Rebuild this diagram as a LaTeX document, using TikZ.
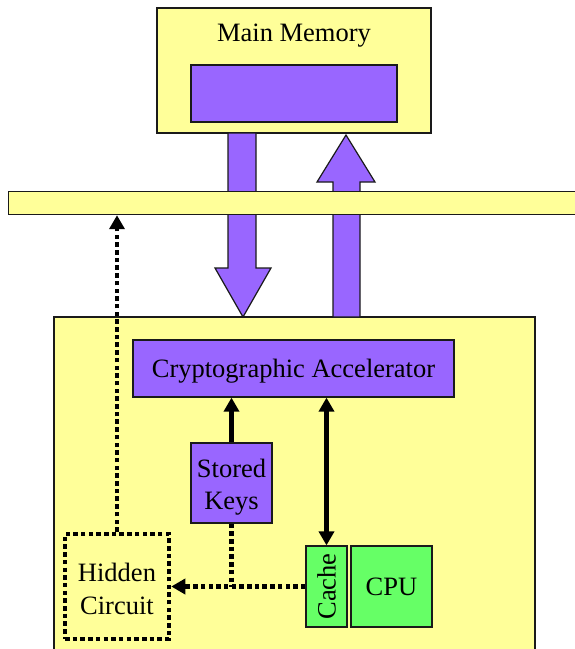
\documentclass[tikz,border=0pt]{standalone}
\usepackage{fontspec}
\setmainfont{Liberation Serif}
\usetikzlibrary{arrows.meta}
\definecolor{memyellow}{HTML}{FFFF99}
\definecolor{blockpurple}{HTML}{9966FF}
\definecolor{cpugreen}{HTML}{66FF66}
\definecolor{edge}{HTML}{1A1A1A}
\begin{document}
\begin{tikzpicture}[x=1pt,y=-1pt,
  every node/.style={font=\fontsize{26.5}{32.5}\selectfont, align=center, inner sep=0pt},
  boxy/.style={draw=edge, line width=1.2pt, rectangle},
  yellowbox/.style={boxy, fill=memyellow},
  purplebox/.style={boxy, fill=blockpurple},
  greenbox/.style={boxy, fill=cpugreen},
  hiddenbox/.style={draw=black, line width=4.5pt, dash pattern=on 4.5pt off 3.2pt, rectangle},
  solidarrow/.style={draw=black, line width=4.5pt, -{Triangle[length=14pt,width=15pt]}},
  solidboth/.style={draw=black, line width=4.5pt, {Triangle[length=14pt,width=15pt]}-{Triangle[length=14pt,width=15pt]}},
  dotline/.style={draw=black, line width=4.5pt, dash pattern=on 4.5pt off 3.2pt},
  dotarrow/.style={dotline, -{Triangle[length=14pt,width=15pt]}},
  blockarrow/.style={fill=blockpurple, draw=edge, line width=1.2pt, line join=miter}
]
\useasboundingbox (0,0) rectangle (575,649);
\clip (0,0) rectangle (575,649);

% main memory
\node[yellowbox, minimum width=274pt, minimum height=125pt] (mem) at (294,70.5) {};
\node (memlabel) at (294,36) {Main Memory};
\node[purplebox, minimum width=206pt, minimum height=57pt] (memblock) at (294,93.5) {};

% chip
\node[yellowbox, minimum width=481pt, minimum height=345pt] (chip) at (294.5,489.5) {};

% block arrows
\draw[blockarrow] (228,133) -- (256,133) -- (256,268) -- (271,268) -- (243,317) -- (215,268) -- (228,268) -- cycle;
\draw[blockarrow] (333,317) -- (333,182) -- (317,182) -- (346,135) -- (375,182) -- (360,182) -- (360,317) -- cycle;

% bus (drawn over the arrows)
\node[yellowbox, minimum width=590pt, minimum height=23pt, anchor=north west] (bus) at (8,191) {};

% inner blocks
\node[purplebox, minimum width=321pt, minimum height=57pt, text depth=0pt] (crypto) at (293.5,368.5) {Cryptographic Accelerator};
\node[purplebox, minimum width=81pt, minimum height=80pt] (keys) at (231.5,483) {};
\node (keyslabel) at (231.5,487) {Stored\\Keys};
\node[greenbox, minimum width=41pt, minimum height=81pt] (cache) at (326.5,586.5) {};
\node[rotate=90] (cachelabel) at (cache.center) {Cache};
\node[greenbox, minimum width=81pt, minimum height=81pt] (cpu) at (391.5,586.5) {CPU};
\node[hiddenbox, minimum width=104pt, minimum height=105pt] (hidden) at (117,586.5) {};
\node (hiddenlabel) at (117,589) {Hidden\\Circuit};

% connectors
\draw[solidarrow] (keys.north) -- (keys.north |- crypto.south);
\draw[solidboth] (cache.north) -- (cache.north |- crypto.south);
\draw[dotarrow] (hidden.north) -- (hidden.north |- bus.south);
\draw[dotarrow] (cache.west) -- (hidden.east);
\draw[dotline] (keys.south) -- (keys.south |- cache.west);
\end{tikzpicture}
\end{document}
